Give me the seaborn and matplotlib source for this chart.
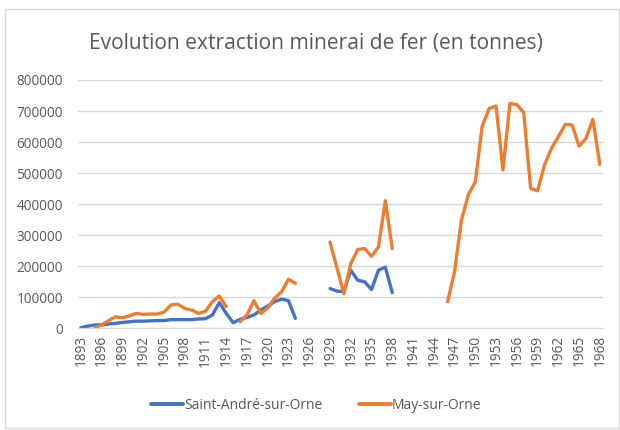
import numpy as np
import pandas as pd
import matplotlib
matplotlib.use("Agg")
import matplotlib.pyplot as plt
import seaborn as sns
from matplotlib.patches import Rectangle
from matplotlib.lines import Line2D

# DATA
years = list(range(1893, 1969))
saint_andre = [
    2000, 7000, 11000, 11000, 14000, 16000, 19000, 21000, 23000, 23000,    # 1893-1902
    24000, 25000, 25000, 28000, 28000, 28000, 28000, 30000, 31000, 43000,  # 1903-1912
    83000, 48000, 18000, 29000, 35000, 43000, 59000, 72000, 86000, 94000,  # 1913-1922
    89000, 32000, None, None, None, None, 128000, 120000, 118000, 187000,  # 1923-1932
    155000, 150000, 125000, 187000, 197000, 115000, None, None, None, None,  # 1933-1942
    None, None, None, None, None, None, None, None, None, None,            # 1943-1952
    None, None, None, None, None, None, None, None, None, None,            # 1953-1962
    None, None, None, None, None, None,                                    # 1963-1968
]
may_sur_orne = [
    None, None, 2000, 11000, 25000, 37000, 34000, 40000, 48000, 45000,     # 1893-1902
    46000, 46000, 52000, 75000, 78000, 64000, 59000, 48000, 55000, 86000,  # 1903-1912
    104000, 70000, None, 21000, 43000, 89000, 48000, 65000, 97000, 118000,  # 1913-1922
    158000, 145000, None, None, None, None, 278000, 195000, 112000, 208000,  # 1923-1932
    254000, 257000, 232000, 262000, 411000, 257000, None, None, None, None,  # 1933-1942
    None, None, None, 86000, 182000, 349000, 430000, 472000, 651000, 708000,  # 1943-1952
    716000, 510000, 724000, 721000, 695000, 451000, 443000, 526000, 579000, 617000,  # 1953-1962
    657000, 655000, 587000, 612000, 673000, 528000,                        # 1963-1968
]
series_names = ["Saint-André-sur-Orne", "May-sur-Orne"]
colors = ["#4472C4", "#ED7D31"]
grey = "#595959"

# long table, split each series in continuous segments (gaps = no data)
frames = []
for name, vals in zip(series_names, [saint_andre, may_sur_orne]):
    d = pd.DataFrame({"year": years, "tonnes": vals, "site": name})
    d["seg"] = d["tonnes"].isna().cumsum()
    d = d.dropna()
    d["seg"] = name + "_" + d["seg"].astype(str)
    frames.append(d)
df = pd.concat(frames, ignore_index=True)

sns.set_style("white")
plt.rcParams['font.family'] = ['Open Sans', 'DejaVu Sans']

fig = plt.figure(figsize=(6.2, 4.3), dpi=100)
ax = fig.add_axes([0.125, 0.2365, 0.848, 0.5775])

sns.lineplot(data=df, x="year", y="tonnes", hue="site", units="seg",
             estimator=None, palette=colors, hue_order=series_names,
             linewidth=2.4, legend=False, ax=ax)

ax.set_xlim(1892.5, 1968.5)
ax.set_ylim(0, 800000)
ax.set_yticks(range(0, 800001, 100000))
ax.set_yticklabels([str(v) for v in range(0, 800001, 100000)], fontsize=9.8, color=grey)
ax.set_xticks(years[::3])
ax.set_xticklabels([str(y) for y in years[::3]], rotation=90, fontsize=9.8, color=grey)
ax.tick_params(axis="y", length=0, pad=10.5)
ax.tick_params(axis="x", length=0, pad=5)
ax.set_xlabel("")
ax.set_ylabel("")
ax.grid(axis="y", color="#D9D9D9", linewidth=1)
ax.set_axisbelow(True)
for s in ["left", "right", "top"]:
    ax.spines[s].set_visible(False)
ax.spines["bottom"].set_color("#D9D9D9")

fig.text(0.509, 0.9, "Evolution extraction minerai de fer (en tonnes)",
         ha="center", va="center", fontsize=15.1, color=grey)

handles = [Line2D([0], [0], color=c, linewidth=2.8) for c in colors]
fig.legend(handles, series_names, loc="center", bbox_to_anchor=(0.51, 0.058),
           ncol=2, frameon=False, fontsize=10, labelcolor=grey,
           handlelength=2.3, handletextpad=0.1, columnspacing=2.6)

# chart border
fig.patches.append(Rectangle((0.008, 0.005), 0.99, 0.975, transform=fig.transFigure,
                             fill=False, edgecolor="#D9D9D9", linewidth=1))

fig.savefig("out.png", dpi=100)
